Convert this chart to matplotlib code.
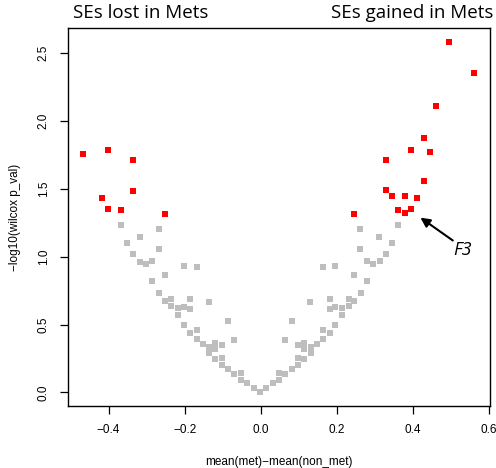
import numpy as np
import matplotlib.pyplot as plt

# non-significant SEs (grey)
gray_x = [-0.368, -0.268, -0.318, -0.352, -0.268, -0.335, -0.318, -0.302, -0.285,
          -0.202, -0.168, -0.252, -0.285, -0.268, -0.252, -0.235, -0.235, -0.218,
          -0.218, -0.202, -0.185, -0.185, -0.135, -0.202, -0.185, -0.168, -0.168,
          -0.152, -0.135, -0.135, -0.119, -0.119, -0.119, -0.103, -0.103, -0.103,
          -0.085, -0.069, -0.085, -0.069, -0.053, -0.053, -0.036, -0.019, -0.003,
          0.014, 0.031, 0.048, 0.048, 0.064, 0.081, 0.064, 0.081, 0.097, 0.097,
          0.097, 0.114, 0.114, 0.114, 0.131, 0.131, 0.147, 0.163, 0.163, 0.181,
          0.196, 0.130, 0.181, 0.181, 0.196, 0.213, 0.213, 0.231, 0.231, 0.246,
          0.263, 0.280, 0.246, 0.196, 0.163, 0.313, 0.296, 0.279, 0.330, 0.262,
          0.346, 0.312, 0.262, 0.362]
gray_y = [1.234, 1.202, 1.143, 1.103, 1.054, 1.018, 0.963, 0.946, 0.966,
          0.934, 0.926, 0.865, 0.821, 0.732, 0.676, 0.686, 0.636, 0.619,
          0.570, 0.629, 0.688, 0.612, 0.666, 0.494, 0.435, 0.459, 0.393,
          0.359, 0.336, 0.292, 0.366, 0.322, 0.243, 0.351, 0.251, 0.201,
          0.528, 0.386, 0.172, 0.133, 0.140, 0.091, 0.066, 0.029, 0.002,
          0.029, 0.066, 0.140, 0.091, 0.133, 0.172, 0.386, 0.528, 0.351, 0.251,
          0.201, 0.366, 0.322, 0.243, 0.336, 0.292, 0.359, 0.459, 0.393, 0.435,
          0.494, 0.666, 0.688, 0.612, 0.629, 0.619, 0.570, 0.686, 0.636, 0.676,
          0.732, 0.821, 0.865, 0.934, 0.926, 0.966, 0.946, 0.966, 1.020, 1.054,
          1.103, 1.143, 1.202, 1.234]

# significant SEs (red)
red_x = [-0.468, -0.402, -0.335, -0.335, -0.418, -0.402, -0.368, -0.252,
         0.4955, 0.562, 0.462, 0.429, 0.3955, 0.4455, 0.329, 0.429, 0.329,
         0.346, 0.380, 0.412, 0.362, 0.380, 0.3955, 0.246]
red_y = [1.757, 1.789, 1.713, 1.487, 1.430, 1.352, 1.344, 1.313,
         2.586, 2.352, 2.114, 1.873, 1.789, 1.772, 1.713, 1.561, 1.490,
         1.448, 1.445, 1.430, 1.344, 1.325, 1.352, 1.313]

# slightly tall square, like the R pch=15 in the original export
rect = [(-0.8, -1), (0.8, -1), (0.8, 1), (-0.8, 1), (-0.8, -1)]

fig = plt.figure(figsize=(4.96, 4.68), dpi=100)
ax = fig.add_axes([0.1377, 0.1335, 0.8503, 0.806])

ax.plot(gray_x, gray_y, linestyle='none', marker=rect, color='#bebebe',
        markersize=4.6, markeredgewidth=0)
ax.plot(red_x, red_y, linestyle='none', marker=rect, color='#ff0000',
        markersize=5, markeredgewidth=0)

ax.set_xlim(-0.506, 0.603)
ax.set_ylim(-0.097, 2.684)
ax.set_xticks([-0.4, -0.2, 0.0, 0.2, 0.4, 0.6])
ax.set_xticklabels(['\u22120.4', '\u22120.2', '0.0', '0.2', '0.4', '0.6'])
ax.set_yticks([0.0, 0.5, 1.0, 1.5, 2.0, 2.5])
ax.tick_params(direction='out', length=5.5, width=0.9, labelsize=8.5, pad=8)
for lab in ax.get_yticklabels():
    lab.set_rotation(90)
    lab.set_va('center')
for sp in ax.spines.values():
    sp.set_linewidth(1.0)

for lab in ax.get_xticklabels() + ax.get_yticklabels():
    lab.set_family('Liberation Sans')

ax.set_xlabel('mean(met)\u2212mean(non_met)', family='Liberation Sans', fontsize=8.5, labelpad=14)
ax.set_ylabel('\u2212log10(wilcox p_val)', family='Liberation Sans', fontsize=8.5, labelpad=12)

ax.annotate('', xy=(0.414, 1.300), xytext=(0.511, 1.108),
            arrowprops=dict(arrowstyle='-|>', color='black', lw=1.5, mutation_scale=14))
ax.text(0.531, 1.050, 'F3', family='Open Sans', style='italic', fontsize=13,
        ha='center', va='center')

fig.text(73 / 496, 1 - 13 / 468, 'SEs lost in Mets', family='Open Sans', fontsize=13.5,
         ha='left', va='center')
fig.text(493 / 496, 1 - 13 / 468, 'SEs gained in Mets', family='Open Sans', fontsize=13.5,
         ha='right', va='center')

fig.savefig('out.png', dpi=100)
